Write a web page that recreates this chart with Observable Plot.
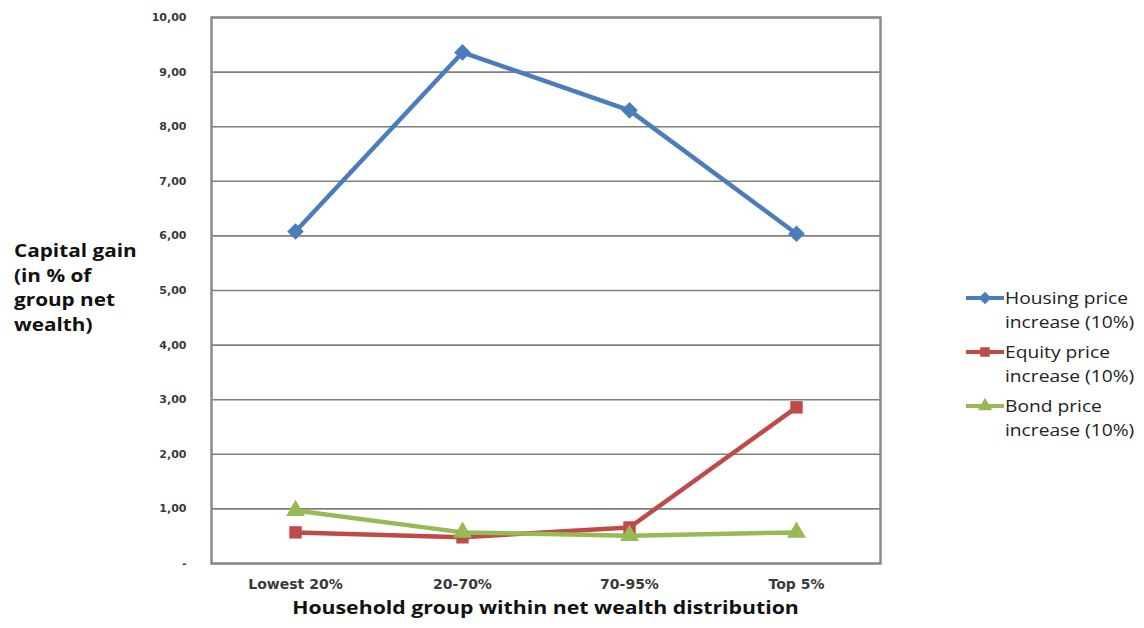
<!DOCTYPE html>
<html>
<head>
<meta charset="utf-8">
<script src="https://cdn.jsdelivr.net/npm/d3@7"></script>
<script src="https://cdn.jsdelivr.net/npm/@observablehq/plot@0.6"></script>
<style>
  body { margin: 0; background: #fff; }
  #wrap { position: relative; width: 1144px; height: 628px; font-family: "Open Sans", sans-serif; overflow: hidden; }
  #chart { position: absolute; left: 0; top: 0; }
  .ytitle { position: absolute; left: 14px; top: 239px; font-weight: 700; font-size: 17px; line-height: 24.5px; color: #111;
            transform: scaleX(1.22); transform-origin: 0 0; }
  .xtitle { position: absolute; left: 0; width: 1091px; top: 595px; text-align: center; font-weight: 700; font-size: 18px; color: #111;
            transform: scaleX(1.18); transform-origin: 545.5px 0; }
  .legend { position: absolute; left: 965px; top: 286px; font-size: 16px; line-height: 24px; color: #222; }
  .legend .item { display: flex; align-items: flex-start; margin-bottom: 6px; }
  .legend svg { flex: none; margin-top: 2px; }
  .legend .name { transform: scaleX(1.2); transform-origin: 0 0; white-space: nowrap; }
</style>
</head>
<body>
<div id="wrap">
  <div id="chart"></div>
  <div class="ytitle">Capital gain<br>(in % of<br>group net<br>wealth)</div>
  <div class="xtitle">Household group within net wealth distribution</div>
  <div class="legend" id="legend"></div>
</div>
<script>
// Household groups along the wealth distribution
const groups = ["Lowest 20%", "20-70%", "70-95%", "Top 5%"];

// Capital gain as % of group net wealth for a 10% price increase
const housing = [6.08, 9.36, 8.30, 6.04];
const equity  = [0.57, 0.48, 0.66, 2.86];
const bond    = [0.97, 0.57, 0.51, 0.57];

const seriesNames = [
  "Housing price increase (10%)",
  "Equity price increase (10%)",
  "Bond price increase (10%)"
];
const seriesColors = ["#4a7ebb", "#be4b48", "#98b954"];

const yTicks = [0, 1, 2, 3, 4, 5, 6, 7, 8, 9, 10];
const yTickLabels = ["-", "1,00", "2,00", "3,00", "4,00", "5,00", "6,00", "7,00", "8,00", "9,00", "10,00"];

// A square rotated by 45 degrees
const squareDiamond = {
  draw(context, size) {
    const r = Math.sqrt(size / 2) * 0.95;
    context.moveTo(0, -r);
    context.lineTo(r, 0);
    context.lineTo(0, r);
    context.lineTo(-r, 0);
    context.closePath();
  }
};
const seriesSymbols = [squareDiamond, d3.symbolSquare, d3.symbolTriangle];

// Long table built from the series arrays
const rows = [];
[housing, equity, bond].forEach((vals, s) => {
  vals.forEach((v, i) => rows.push({ group: groups[i], value: v, series: seriesNames[s] }));
});

const chart = Plot.plot({
  width: 1144,
  height: 628,
  marginLeft: 211,
  marginRight: 264,
  marginTop: 17,
  marginBottom: 65,
  style: { fontFamily: "Open Sans, sans-serif", background: "#fff" },
  x: { type: "point", domain: groups, padding: 0.5, label: null },
  y: { domain: [0, 10], ticks: yTicks, label: null },
  color: { domain: seriesNames, range: seriesColors },
  symbol: { domain: seriesNames, range: seriesSymbols },
  marks: [
    Plot.gridY(yTicks, { stroke: "#7f7f7f", strokeOpacity: 1, strokeWidth: 1.6 }),
    Plot.frame({ stroke: "#8a8a8a", strokeWidth: 2.5 }),
    Plot.axisY(yTicks, {
      tickSize: 0, tickPadding: 25, fontSize: 11, fontWeight: 700, fill: "#3a3a3a",
      fontFamily: "DejaVu Sans, sans-serif",
      tickFormat: d => yTickLabels[yTicks.indexOf(d)]
    }),
    Plot.axisX(groups, {
      tickSize: 0, tickPadding: 16, fontSize: 14, fontWeight: 700, fill: "#3a3a3a",
      fontFamily: "DejaVu Sans, sans-serif"
    }),
    Plot.line(rows, { x: "group", y: "value", z: "series", stroke: "series", strokeWidth: 4.5, strokeLinejoin: "round" }),
    Plot.dot(rows, { x: "group", y: "value", fill: "series", symbol: "series", r: 7, stroke: null })
  ]
});
document.getElementById("chart").appendChild(chart);

// Legend: line swatch with marker, followed by the wrapped series name
const legend = d3.select("#legend");
seriesNames.forEach((name, i) => {
  const item = legend.append("div").attr("class", "item");
  const svg = item.append("svg").attr("width", 40).attr("height", 20);
  svg.append("line").attr("x1", 1).attr("x2", 39).attr("y1", 10).attr("y2", 10)
    .attr("stroke", seriesColors[i]).attr("stroke-width", 4);
  svg.append("path").attr("transform", "translate(20,10)")
    .attr("d", d3.symbol(seriesSymbols[i], 90)()).attr("fill", seriesColors[i]);
  const words = name.split(" ");
  item.append("div").attr("class", "name")
    .html(words.slice(0, 2).join(" ") + "<br>" + words.slice(2).join(" "));
});
</script>
</body>
</html>
